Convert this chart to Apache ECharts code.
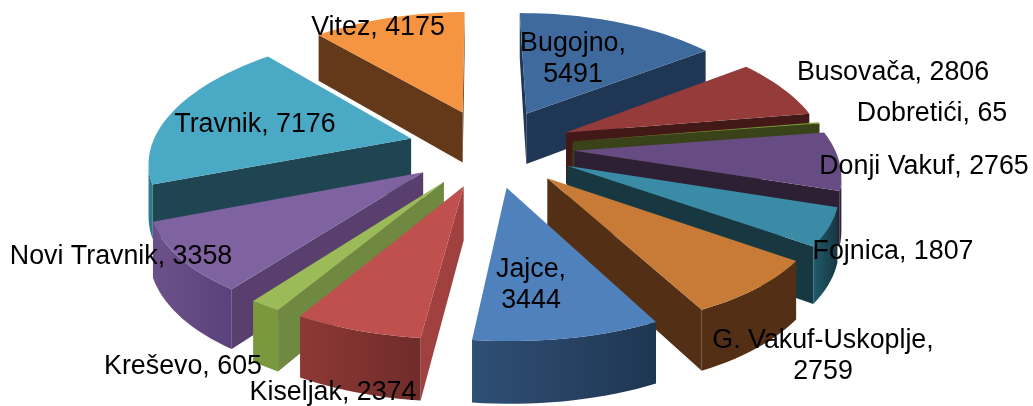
<!DOCTYPE html>
<html>
<head>
<meta charset="utf-8">
<style>
  html, body { margin: 0; padding: 0; background: #fff; }
  #chart { width: 1033px; height: 406px; }
</style>
<script src="https://cdn.jsdelivr.net/npm/echarts@6/dist/echarts.min.js"></script>
</head>
<body>
<div id="chart"></div>
<script>
const categories = ['Bugojno', 'Busovača', 'Dobretići', 'Donji Vakuf', 'Fojnica', 'G. Vakuf-Uskoplje', 'Jajce', 'Kiseljak', 'Kreševo', 'Novi Travnik', 'Travnik', 'Vitez']
const values = [5491, 2806, 65, 2765, 1807, 2759, 3444, 2374, 605, 3358, 7176, 4175]

// boje: gornja ploha, rezna ploha, vanjski zid (lijevo, desno)
const topColors = ['#3f6a9d', '#953c3a', '#769535', '#664c82', '#3a8ba5', '#c77b36', '#4f81bd', '#bf504d', '#9bbb59', '#7f62a0', '#4aa9c4', '#f59541']
const cutColors = ['#1f3655', '#431917', '#3a4219', '#2d2034', '#173840', '#532f16', '#1f3652', '#a0413f', '#6f8a40', '#593f6d', '#1f4552', '#63391a']
const wallFrom = ['#2f4f75', '#5a2422', '#3a4219', '#3b2a4e', '#1f5a6b', '#532f16', '#2f4f75', '#8e3835', '#7a993f', '#6c5189', '#2a7a90', '#a8642a']
const wallTo = ['#1f3652', '#431917', '#3a4219', '#2d2034', '#173840', '#532f16', '#1f3652', '#6f2c2a', '#7a993f', '#5b417c', '#2a7a90', '#a8642a']

// sredina teksta oznake, u pikselima
const labelLines = ['Bugojno,\n5491', 'Busovača, 2806', 'Dobretići, 65', 'Donji Vakuf, 2765', 'Fojnica, 1807', 'G. Vakuf-Uskoplje,\n2759', 'Jajce,\n3444', 'Kiseljak, 2374', 'Kreševo, 605', 'Novi Travnik, 3358', 'Travnik, 7176', 'Vitez, 4175']
const labelAnchors = [[573, 59], [893, 73], [932, 114], [924, 167], [893, 252], [823, 356], [531, 285], [333, 393], [183, 367], [121, 257], [255, 125], [378, 28]]

const CX = 491
const CY = 147.6
const RX = 260
const RY = 122
const PERSPECTIVE = 0.13
const PERSPECTIVE_X = 0.16
const EXPLODE = 0.32
const DEPTH = 52
const START_ANGLE = -0.5

const total = values.reduce((a, b) => a + b, 0)
const slices = []
let sum = 0
values.forEach((v, i) => {
  const from = START_ANGLE + (sum / total) * 360
  sum += v
  const to = START_ANGLE + (sum / total) * 360
  const mid = ((from + to) / 2) * Math.PI / 180
  slices.push({ i, from, to, ex: EXPLODE * Math.sin(mid), ez: EXPLODE * Math.cos(mid) })
})
// crtanje od straznjih prema prednjim
const drawOrder = slices.slice().sort((a, b) => b.ez - a.ez).map((s) => s.i)

function project(x, z, h) {
  const w = 1 / (1 + PERSPECTIVE * z)
  const wx = 1 / (1 + PERSPECTIVE_X * z)
  return [CX + RX * x * wx, CY - RY * z * w + h * DEPTH * w]
}

function visible(pts) {
  let area = 0
  pts.forEach((p, k) => {
    const q = pts[(k + 1) % pts.length]
    area += p[0] * q[1] - q[0] * p[1]
  })
  return area < 0
}

function face(pts, fill) {
  return {
    type: 'polygon',
    shape: { points: pts },
    style: { fill: fill, lineWidth: 0 },
  }
}

function renderSlice(params, api) {
  const s = slices[api.value(0)]
  const steps = Math.max(2, Math.ceil((s.to - s.from) / 2))
  const arc = []
  for (let k = 0; k <= steps; k++) {
    const a = (s.from + ((s.to - s.from) * k) / steps) * Math.PI / 180
    arc.push([Math.sin(a) + s.ex, Math.cos(a) + s.ez])
  }
  const up = arc.map((p) => project(p[0], p[1], 0))
  const down = arc.map((p) => project(p[0], p[1], 1))
  const apexUp = project(s.ex, s.ez, 0)
  const apexDown = project(s.ex, s.ez, 1)
  const children = []

  const startFace = [apexUp, up[0], down[0], apexDown]
  if (visible(startFace)) children.push(face(startFace, cutColors[s.i]))
  const endFace = [up[steps], apexUp, apexDown, down[steps]]
  if (visible(endFace)) children.push(face(endFace, cutColors[s.i]))

  // vidljivi dio vanjskog zida, jedan poligon s gradijentom
  let wallTop = []
  let wallBottom = []
  for (let k = 0; k < steps; k++) {
    if (!visible([up[k], up[k + 1], down[k + 1], down[k]])) continue
    if (!wallTop.length) {
      wallTop.push(up[k])
      wallBottom.push(down[k])
    }
    wallTop.push(up[k + 1])
    wallBottom.push(down[k + 1])
  }
  if (wallTop.length) {
    const fill = new echarts.graphic.LinearGradient(0, 0, 1, 0, [
      { offset: 0, color: wallFrom[s.i] },
      { offset: 1, color: wallTo[s.i] },
    ])
    children.push(face(wallTop.concat(wallBottom.reverse()), fill))
  }
  children.push(face([apexUp].concat(up), topColors[s.i]))
  return { type: 'group', children }
}

function renderLabel(params, api) {
  const i = api.value(0)
  return {
    type: 'text',
    x: labelAnchors[i][0],
    y: labelAnchors[i][1],
    style: {
      text: labelLines[i],
      fill: '#000',
      fontFamily: '"Liberation Sans", Arial, sans-serif',
      fontSize: 26.8,
      lineHeight: 31,
      align: 'center',
      verticalAlign: 'middle',
    },
  }
}

const myChart = echarts.init(document.getElementById('chart'))
const option = {
  animation: false,
  backgroundColor: '#fff',
  series: [
    {
      type: 'custom',
      coordinateSystem: 'none',
      silent: true,
      renderItem: renderSlice,
      data: drawOrder.map((i) => [i, values[i]]),
    },
    {
      type: 'custom',
      coordinateSystem: 'none',
      silent: true,
      z: 5,
      renderItem: renderLabel,
      data: categories.map((c, i) => [i]),
    },
  ],
}
myChart.setOption(option)
</script>
</body>
</html>
